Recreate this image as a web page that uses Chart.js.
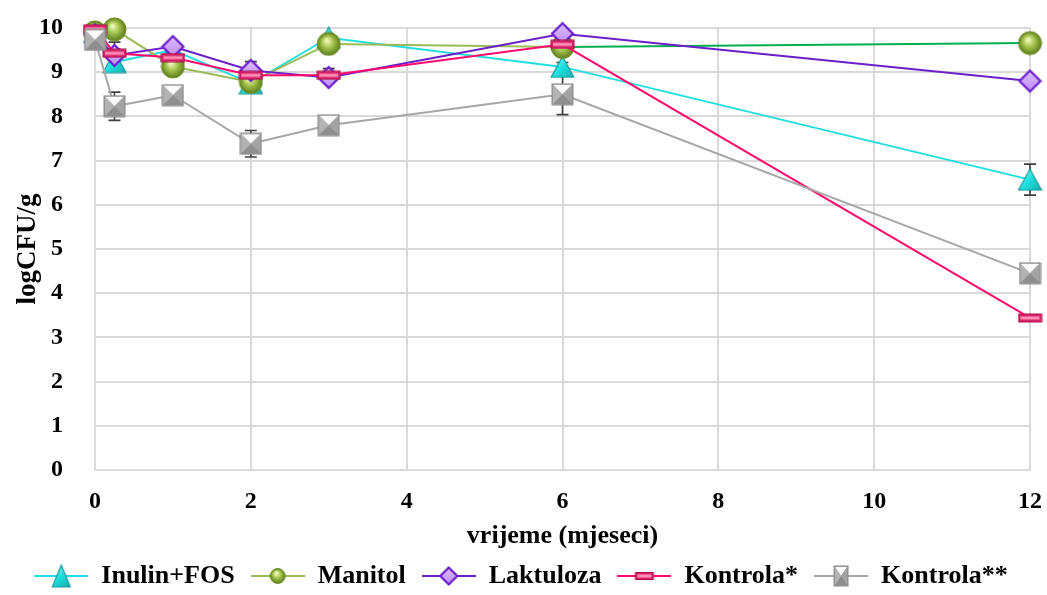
<!DOCTYPE html>
<html>
<head>
<meta charset="utf-8">
<script src="https://cdn.jsdelivr.net/npm/chart.js@4.4.1/dist/chart.umd.min.js"></script>
<style>
  html, body { margin: 0; padding: 0; background: #fff; }
  #wrap { width: 1047px; height: 595px; position: relative; }
</style>
</head>
<body>
<div id="wrap"><canvas id="chart"></canvas></div>
<script>
// time points (months) and series
const months = [0, 0.25, 1, 2, 3, 6, 12];
const seriesNames = ["Inulin+FOS", "Manitol", "Laktuloza", "Kontrola*", "Kontrola**"];

const inulinFos = [9.9, 9.23, 9.5, 8.75, 9.78, 9.12, 6.57];
const manitol = [9.9, 9.97, 9.13, 8.78, 9.64, 9.57, 9.66];
const laktuloza = [9.85, 9.38, 9.58, 9.04, 8.88, 9.87, 8.8];
const kontrola1 = [9.98, 9.43, 9.33, 8.93, 8.93, 9.63, 3.44];
const kontrola2 = [9.73, 8.23, 8.48, 7.38, 7.8, 8.5, 4.45];

// standard deviations (error bars)
const inulinFosErr = [0.05, 0.1, 0.1, 0.15, 0.05, 0.1, 0.35];
const manitolErr = [0.05, 0.05, 0.1, 0.1, 0.05, 0.2, 0.05];
const laktulozaErr = [0.05, 0.3, 0.05, 0.2, 0.12, 0.05, 0.05];
const kontrola1Err = [0.05, 0.1, 0.05, 0.1, 0.15, 0.1, 0.05];
const kontrola2Err = [0.1, 0.32, 0.05, 0.3, 0.05, 0.46, 0.15];

const xTicks = [0, 2, 4, 6, 8, 10, 12];
const yTicks = [0, 1, 2, 3, 4, 5, 6, 7, 8, 9, 10];

const FONT = "'Liberation Serif', 'Times New Roman', serif";
const GRID = "#d9d9d9";

function drawTriangle(ctx, w, h) {
  const g = ctx.createLinearGradient(0, 0, w, h);
  g.addColorStop(0, "#9ffcfc");
  g.addColorStop(0.5, "#1fe0e0");
  g.addColorStop(1, "#14a8a8");
  ctx.beginPath();
  ctx.moveTo(w / 2, 1);
  ctx.lineTo(w - 1, h - 1);
  ctx.lineTo(1, h - 1);
  ctx.closePath();
  ctx.fillStyle = g;
  ctx.fill();
  ctx.strokeStyle = "#1b9a9a";
  ctx.lineWidth = 1.2;
  ctx.stroke();
}

function drawSphere(ctx, w, h) {
  const r = Math.min(w, h) / 2 - 1;
  const g = ctx.createRadialGradient(w * 0.42, h * 0.36, 1, w / 2, h / 2, r);
  g.addColorStop(0, "#eef7b8");
  g.addColorStop(0.45, "#a6c44e");
  g.addColorStop(1, "#5f7d1c");
  ctx.beginPath();
  ctx.arc(w / 2, h / 2, r, 0, Math.PI * 2);
  ctx.fillStyle = g;
  ctx.fill();
  ctx.strokeStyle = "#6f8f2a";
  ctx.lineWidth = 1;
  ctx.stroke();
}

function drawDiamond(ctx, w, h) {
  const g = ctx.createLinearGradient(0, 0, 0, h);
  g.addColorStop(0, "#e2c2ff");
  g.addColorStop(1, "#b987f2");
  ctx.beginPath();
  ctx.moveTo(w / 2, 2);
  ctx.lineTo(w - 2, h / 2);
  ctx.lineTo(w / 2, h - 2);
  ctx.lineTo(2, h / 2);
  ctx.closePath();
  ctx.fillStyle = g;
  ctx.fill();
  ctx.strokeStyle = "#6a1fc9";
  ctx.lineWidth = 2.2;
  ctx.stroke();
}

function drawBar(ctx, w, h) {
  ctx.fillStyle = "#d8246a";
  ctx.fillRect(1, 1, w - 2, h - 2);
  ctx.fillStyle = "#ff8fb5";
  ctx.fillRect(3, h / 2 - 1.5, w - 6, 3);
  ctx.strokeStyle = "#b0104f";
  ctx.lineWidth = 1;
  ctx.strokeRect(1, 1, w - 2, h - 2);
}

function drawPyramid(ctx, w, h) {
  const cx = w / 2, cy = h / 2;
  ctx.fillStyle = "#9c9c9c";
  ctx.fillRect(1, 1, w - 2, h - 2);
  const faces = [
    [[2, 2], [w - 2, 2], "#fbfbfb"],
    [[w - 2, 2], [w - 2, h - 2], "#a3a3a3"],
    [[w - 2, h - 2], [2, h - 2], "#8e8e8e"],
    [[2, h - 2], [2, 2], "#b3b3b3"],
  ];
  faces.forEach(([a, b, c]) => {
    ctx.beginPath();
    ctx.moveTo(a[0], a[1]);
    ctx.lineTo(b[0], b[1]);
    ctx.lineTo(cx, cy);
    ctx.closePath();
    ctx.fillStyle = c;
    ctx.fill();
  });
  ctx.strokeStyle = "#8c8c8c";
  ctx.lineWidth = 1;
  ctx.strokeRect(1, 1, w - 2, h - 2);
}

function makeMarker(draw, w, h) {
  const c = document.createElement("canvas");
  c.width = w;
  c.height = h;
  draw(c.getContext("2d"), w, h);
  return c;
}

function makeLegendIcon(draw, w, h, color) {
  const c = document.createElement("canvas");
  c.width = 54;
  c.height = 26;
  const ctx = c.getContext("2d");
  ctx.strokeStyle = color;
  ctx.lineWidth = 2;
  ctx.beginPath();
  ctx.moveTo(0, 13);
  ctx.lineTo(54, 13);
  ctx.stroke();
  ctx.save();
  ctx.translate(27 - w / 2, 13 - h / 2);
  draw(ctx, w, h);
  ctx.restore();
  return c;
}

const styles = [
  { color: "#22dede", draw: drawTriangle, w: 25, h: 23, lw: 20, lh: 24 },
  { color: "#9bbb59", draw: drawSphere, w: 25, h: 25, lw: 17, lh: 21 },
  { color: "#6a1fc9", draw: drawDiamond, w: 25, h: 25, lw: 21, lh: 21 },
  { color: "#ff0a6c", draw: drawBar, w: 25, h: 10, lw: 20, lh: 9 },
  { color: "#a6a6a6", draw: drawPyramid, w: 23, h: 23, lw: 16, lh: 22 },
];

const values = [inulinFos, manitol, laktuloza, kontrola1, kontrola2];
const errors = [inulinFosErr, manitolErr, laktulozaErr, kontrola1Err, kontrola2Err];

const datasets = seriesNames.map((name, i) => ({
  label: name,
  data: months.map((m, j) => ({ x: m, y: values[i][j] })),
  errors: errors[i],
  borderColor: styles[i].color,
  backgroundColor: styles[i].color,
  borderWidth: 2,
  pointStyle: makeMarker(styles[i].draw, styles[i].w, styles[i].h),
  legendIcon: makeLegendIcon(styles[i].draw, styles[i].lw, styles[i].lh, styles[i].color),
  tension: 0,
  order: seriesNames.length - i,
  clip: false,
  segment: i === 1 ? {
    borderColor: ctx => ctx.p0DataIndex === months.length - 2 ? "#00b050" : "#9bbb59",
  } : undefined,
}));

const errorBars = {
  id: "errorBars",
  beforeDatasetsDraw(chart) {
    const { ctx, scales } = chart;
    ctx.save();
    ctx.strokeStyle = "#404040";
    ctx.lineWidth = 1.6;
    chart.data.datasets.forEach(ds => {
      ds.data.forEach((p, j) => {
        const e = ds.errors[j];
        if (!e) return;
        const x = scales.x.getPixelForValue(p.x);
        const y1 = scales.y.getPixelForValue(p.y + e);
        const y2 = scales.y.getPixelForValue(p.y - e);
        ctx.beginPath();
        ctx.moveTo(x, y1);
        ctx.lineTo(x, y2);
        ctx.moveTo(x - 6, y1);
        ctx.lineTo(x + 6, y1);
        ctx.moveTo(x - 6, y2);
        ctx.lineTo(x + 6, y2);
        ctx.stroke();
      });
    });
    ctx.restore();
  },
};

new Chart(document.getElementById("chart"), {
  type: "line",
  data: { datasets },
  plugins: [errorBars],
  options: {
    responsive: true,
    maintainAspectRatio: false,
    animation: false,
    layout: { padding: { left: 12, right: 17, top: 28, bottom: 0 } },
    plugins: {
      tooltip: { enabled: false },
      legend: {
        position: "bottom",
        maxHeight: 48,
        labels: {
          usePointStyle: true,
          pointStyleWidth: 54,
          boxHeight: 24,
          padding: 16,
          color: "#000",
          font: { family: FONT, size: 26, weight: "bold" },
          sort: (a, b) => a.datasetIndex - b.datasetIndex,
          generateLabels(chart) {
            return chart.data.datasets.map((ds, i) => ({
              text: ds.label,
              datasetIndex: i,
              pointStyle: ds.legendIcon,
              fillStyle: ds.borderColor,
              strokeStyle: ds.borderColor,
              lineWidth: 0,
              hidden: false,
              fontColor: "#000",
            }));
          },
        },
      },
    },
    scales: {
      x: {
        type: "linear",
        min: xTicks[0],
        max: xTicks[xTicks.length - 1],
        afterBuildTicks: scale => { scale.ticks = xTicks.map(v => ({ value: v })); },
        afterFit: scale => { scale.height = 77; },
        grid: { color: GRID, lineWidth: 2, drawTicks: true, tickLength: 13, tickColor: "rgba(0,0,0,0)" },
        border: { color: GRID, width: 2 },
        ticks: {
          color: "#000",
          padding: 4,
          font: { family: FONT, size: 24, weight: "bold" },
        },
        title: {
          display: true,
          text: "vrijeme (mjeseci)",
          color: "#000",
          padding: { top: 0, bottom: -5 },
          font: { family: FONT, size: 26, weight: "bold" },
        },
      },
      y: {
        min: yTicks[0],
        max: yTicks[yTicks.length - 1],
        afterBuildTicks: scale => { scale.ticks = yTicks.map(v => ({ value: v })); },
        afterFit: scale => { scale.width = 83; },
        grid: { color: GRID, lineWidth: 2, drawTicks: true, tickLength: 28, tickColor: "rgba(0,0,0,0)" },
        border: { color: GRID, width: 2 },
        ticks: {
          color: "#000",
          padding: 4,
          font: { family: FONT, size: 24, weight: "bold" },
        },
        title: {
          display: true,
          text: "logCFU/g",
          color: "#000",
          padding: { top: 0, bottom: 0 },
          font: { family: FONT, size: 27, weight: "bold" },
        },
      },
    },
  },
});
</script>
</body>
</html>
